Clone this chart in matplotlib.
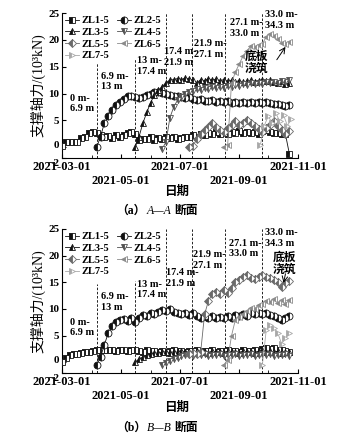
import numpy as np
import pandas as pd
import matplotlib
matplotlib.use('Agg')
import matplotlib.pyplot as plt
import matplotlib.dates as mdates
import matplotlib.transforms as mtransforms
from matplotlib.ticker import FixedLocator

plt.rcParams['font.family'] = ['Liberation Serif', 'Noto Sans CJK SC']
plt.rcParams['font.weight'] = 'bold'
LATIN = 'Liberation Serif'

STEP = 4  # 监测间隔 (天)

# 测点名称及起测日期
NAMES = ['ZL1-5', 'ZL2-5', 'ZL3-5', 'ZL4-5', 'ZL5-5', 'ZL6-5', 'ZL7-5']
A_START = ['2021-03-01', '2021-04-06', '2021-05-16', '2021-06-13',
           '2021-07-11', '2021-08-16', '2021-09-23']
B_START = ['2021-03-01', '2021-04-06', '2021-05-16', '2021-06-13',
           '2021-07-11', '2021-08-16', '2021-09-25']

# A-A 断面支撑轴力 (10^3 kN)
A_ZL1 = [0.2, 1.0, 1.0, 1.0, 1.0, 1.8, 2.0, 2.6, 2.8, 2.7, 2.2, 2.0, 2.1, 1.8, 2.2, 2.0, 2.3, 2.6, 2.8, 2.4,
         1.3, 1.6, 1.5, 1.9, 1.3, 1.8, 1.6, 1.9, 1.7, 1.9,
         1.5, 1.8, 2.0, 1.9, 2.3, 2.0, 2.5, 2.2, 2.6, 2.4,
         2.8, 2.5, 2.7, 2.4, 2.9, 2.6, 3.0, 2.7, 2.9, 2.6,
         2.8, 2.5, 3.0, 3.2, 2.9, 2.7, 2.6, 2.5, 2.4, -1.2]
A_ZL2 = [0.0, 2.0, 4.5, 5.8, 7.0, 7.8, 8.4, 8.9, 9.5, 9.6,
         9.4, 9.2, 9.4, 9.8, 10.0, 10.2, 10.3, 10.1, 10.0, 9.7,
         9.5, 9.6, 9.4, 9.2, 9.3, 9.0, 8.8, 8.9, 8.7, 8.6,
         8.8, 8.5, 8.6, 8.4, 8.6, 8.3, 8.5, 8.3, 8.5, 8.2,
         8.4, 8.3, 8.5, 8.3, 8.4, 8.2, 8.0, 8.1, 7.8, 7.7, 7.9]
A_ZL3 = [0.0, 2.0, 4.5, 6.5, 8.3, 9.8, 10.6, 11.3, 12.0, 12.5,
         12.6, 12.8, 12.6, 12.9, 12.7, 12.5, 12.0, 12.6, 12.4, 12.8,
         12.5, 12.7, 12.4, 12.6, 12.3, 12.5, 12.2, 12.4, 12.1, 12.3,
         12.5, 12.2, 12.4, 12.6, 12.3, 12.5, 12.2, 12.0, 12.3, 11.8, 12.0]
A_ZL4 = [-0.3, 1.0, 5.5, 7.5, 8.8, 9.4, 9.9, 10.3, 10.5, 10.8,
         10.6, 11.0, 10.8, 11.2, 11.0, 11.3, 11.1, 11.5, 11.3, 11.6,
         11.4, 11.8, 11.6, 11.9, 11.7, 12.0, 11.8, 12.1, 11.9, 12.2,
         12.0, 12.4, 12.1, 12.5]
A_ZL5 = [0.0, 0.3, 1.5, 2.5, 3.2, 3.8, 4.5, 3.8, 3.2, 2.8,
         3.5, 4.2, 4.8, 4.2, 4.6, 5.0, 4.5, 4.0, 3.4, 2.8,
         3.5, 4.2, 4.8, 4.0, 3.2, 2.5, 3.0]
A_ZL6 = [0.0, 0.5, 12.0, 14.0, 15.5, 17.0, 18.0, 18.8, 18.6, 19.0,
         19.3, 20.5, 21.0, 20.8, 20.2, 19.4, 19.2, 19.6]
A_ZL7 = [0.5, 4.0, 5.8, 4.6, 6.4, 4.8, 6.0, 4.0, 5.3]

# B-B 断面支撑轴力 (10^3 kN)
B_ZL1 = [0.1, 0.8, 1.4, 1.5, 1.6, 1.8, 1.9, 2.0, 2.2, 2.4,
         2.3, 2.4, 2.3, 2.4, 2.2, 2.4, 2.3, 2.2, 2.4, 2.3,
         2.2, 2.0, 2.3, 2.1, 2.2, 2.0, 2.2, 2.0, 2.1, 2.3,
         2.1, 2.2, 2.0, 2.2, 2.1, 2.3, 2.0, 2.2, 2.1, 2.3,
         2.0, 2.2, 2.1, 2.3, 2.1, 2.2, 2.0, 2.3, 2.1, 2.2,
         2.4, 2.2, 2.5, 2.7, 2.5, 2.6, 2.4, 2.3, 2.1, 2.0]
B_ZL2 = [-0.5, 1.0, 3.3, 5.5, 6.8, 7.6, 8.0, 8.2, 7.8, 8.3,
         7.6, 8.4, 8.8, 8.6, 9.2, 9.0, 9.5, 9.8, 9.6, 10.0,
         9.4, 9.2, 9.0, 9.3, 8.8, 9.2, 8.6, 8.3, 8.6, 8.4,
         8.6, 8.3, 8.5, 8.3, 8.6, 8.4, 8.8, 8.6, 9.0, 8.7,
         9.2, 9.0, 9.3, 9.1, 9.3, 8.8, 8.6, 8.4, 8.0, 8.3, 8.6]
B_ZL3 = [0.0, 0.6, 1.0, 1.3, 1.5, 1.7, 1.8, 1.9, 2.0, 1.8,
         2.0, 1.9, 2.1, 1.9, 2.0, 1.8, 2.1, 1.9, 2.0, 1.8,
         2.1, 1.9, 2.0, 1.8, 2.1, 1.9, 2.0, 1.8, 2.1, 1.9,
         2.0, 1.8, 2.1, 2.3, 2.0, 2.2, 1.9, 2.1, 1.8, 2.0, 1.9]
B_ZL4 = [-0.5, -0.2, 0.3, 0.6, 0.9, 1.1, 1.3, 1.4, 1.2, 1.5,
         1.3, 1.5, 1.2, 1.4, 1.3, 1.5, 1.2, 1.4, 1.3, 1.5,
         1.2, 1.4, 1.3, 1.5, 1.2, 1.4, 1.6, 1.3, 1.5, 1.2,
         1.4, 1.3, 1.5, 1.2]
B_ZL5 = [1.5, 1.8, 1.5, 2.0, 9.0, 11.5, 12.8, 13.2, 12.8, 13.5,
         13.0, 14.0, 15.0, 15.5, 16.0, 16.3, 15.9, 15.6, 16.0, 16.3,
         16.0, 15.8, 15.5, 15.0, 14.2, 14.8, 15.2]
B_ZL6 = [-0.5, 0.5, 5.0, 8.0, 8.5, 9.0, 9.6, 10.2, 10.0, 10.8,
         11.0, 11.5, 11.3, 11.8, 11.2, 11.6, 11.0, 11.6]
B_ZL7 = [-0.5, 6.0, 7.0, 6.5, 5.5, 3.5, 4.5, 5.5]

# 开挖工况分界日期、分界线上端及标注
STAGE_DATES = ['2021-04-06', '2021-05-16', '2021-06-17', '2021-07-14', '2021-08-17', '2021-09-25']
A_STAGE_TOP = [15.7, 16.7, 25, 25, 25, 25]
B_STAGE_TOP = [14.7, 15.3, 25, 25, 25, 25]
STAGE_TEXT = ['0 m-\n6.9 m', '6.9 m-\n13 m', '13 m-\n17.4 m', '17.4 m-\n21.9 m',
              '21.9 m-\n27.1 m', '27.1 m-\n33.0 m', '33.0 m-\n34.3 m']
A_TEXT_POS = [('2021-03-09', 10.0), ('2021-04-10', 14.1), ('2021-05-18', 17.0), ('2021-06-15', 18.7),
              ('2021-07-16', 20.2), ('2021-08-22', 24.1), ('2021-09-28', 25.6)]
B_TEXT_POS = [('2021-03-09', 8.4), ('2021-04-10', 13.1), ('2021-05-18', 15.5), ('2021-06-17', 17.7),
              ('2021-07-15', 21.1), ('2021-08-21', 23.2), ('2021-09-28', 25.2)]

XTICKS = ['2021-03-01', '2021-05-01', '2021-07-01', '2021-09-01', '2021-11-01']
XMINOR = ['2021-04-01', '2021-06-01', '2021-08-01', '2021-10-01']
YTICKS = [-2, 0, 5, 10, 15, 20, 25]

COLORS = ['#111111', '#111111', '#111111', '#505050', '#6a6a6a', '#8a8a8a', '#a8a8a8']
MARKERS = ['s', 'o', '^', 'v', 'D', '<', '>']


def dnum(s):
    return mdates.date2num(pd.Timestamp(s))


def draw_panel(ax, series, starts, stage_top, text_pos, note_pos, arrow):
    handles = []
    for k, vals in enumerate(series):
        x = [dnum(pd.Timestamp(starts[k]) + pd.Timedelta(days=STEP * i)) for i in range(len(vals))]
        ms = 4.4 if MARKERS[k] == 'D' else 5.0
        h, = ax.plot(x, vals, color=COLORS[k], lw=0.6, marker=MARKERS[k], ms=ms, mew=0.6,
                     fillstyle='left', markerfacecolor=COLORS[k], markerfacecoloralt='white',
                     markeredgecolor=COLORS[k], label=NAMES[k], zorder=3)
        handles.append(h)

    for d, top in zip(STAGE_DATES, stage_top):
        ax.vlines(dnum(d), -2, top, color='black', lw=0.6, ls=(0, (3, 2)), zorder=1)

    for txt, (d, yv) in zip(STAGE_TEXT, text_pos):
        ax.text(dnum(d), yv, txt, fontsize=7.4, family=LATIN, ha='left', va='top',
                linespacing=1.25, clip_on=False)

    ax.text(dnum(note_pos[0]), note_pos[1], '底板\n浇筑', fontsize=8.5, ha='center', va='top',
            linespacing=1.0)
    ax.annotate('', xy=(dnum(arrow[2]), arrow[3]), xytext=(dnum(arrow[0]), arrow[1]),
                arrowprops=dict(arrowstyle='->', lw=0.7, color='black', shrinkA=0, shrinkB=0))

    order = [0, 2, 4, 6, 1, 3, 5]
    ax.legend([handles[i] for i in order], [NAMES[i] for i in order], ncol=2,
              loc='upper left', bbox_to_anchor=(0.0, 1.0),
              prop={'family': LATIN, 'size': 7.5, 'weight': 'bold'},
              handlelength=1.3, handletextpad=0.25, columnspacing=0.8,
              labelspacing=0.22, borderpad=0.15, borderaxespad=0.15, numpoints=1,
              frameon=False)

    ax.set_xlim(dnum('2021-03-01'), dnum('2021-11-01'))
    ax.set_ylim(-2, 25)
    ax.xaxis.set_major_locator(FixedLocator([dnum(d) for d in XTICKS]))
    ax.xaxis.set_minor_locator(FixedLocator([dnum(d) for d in XMINOR]))
    ax.set_xticklabels([d if i % 2 == 0 else '\n' + d for i, d in enumerate(XTICKS)],
                       fontsize=9, family=LATIN)
    ax.yaxis.set_major_locator(FixedLocator(YTICKS))
    ax.set_yticklabels([str(v).replace('-', '−') for v in YTICKS], fontsize=8, family=LATIN)
    ax.tick_params(direction='in', length=3, width=0.8, pad=2)
    ax.tick_params(which='minor', direction='in', length=2, width=0.6)
    # 错开 -2 与 0 两个刻度标签
    fig = ax.figure
    ylabs = ax.get_yticklabels()
    ylabs[0].set_transform(ylabs[0].get_transform() +
                           mtransforms.ScaledTranslation(0, -3.5 / 72, fig.dpi_scale_trans))
    ylabs[1].set_transform(ylabs[1].get_transform() +
                           mtransforms.ScaledTranslation(0, 2 / 72, fig.dpi_scale_trans))
    ax.spines['top'].set_visible(False)
    ax.spines['right'].set_visible(False)
    ax.spines['left'].set_linewidth(0.8)
    ax.spines['bottom'].set_linewidth(0.8)
    ax.set_ylabel('支撑轴力/(10³kN)', fontsize=10, labelpad=1)


fig = plt.figure(figsize=(3.48, 4.42), dpi=100)
W, H = 348, 442
ax_a = fig.add_axes([62 / W, 1 - 158 / H, 236 / W, 145 / H])
ax_b = fig.add_axes([62 / W, 1 - 373 / H, 236 / W, 144 / H])

draw_panel(ax_a, [A_ZL1, A_ZL2, A_ZL3, A_ZL4, A_ZL5, A_ZL6, A_ZL7], A_START, A_STAGE_TOP,
           A_TEXT_POS, ('2021-09-19', 18.0), ('2021-10-10', 16.3, '2021-10-19', 18.7))
draw_panel(ax_b, [B_ZL1, B_ZL2, B_ZL3, B_ZL4, B_ZL5, B_ZL6, B_ZL7], B_START, B_STAGE_TOP,
           B_TEXT_POS, ('2021-10-18', 20.7), ('2021-10-19', 16.6, '2021-10-17', 14.9))


def caption(y, tag, letter):
    fig.text(146 / W, 1 - y / H, '（' + tag + '）', fontsize=8.5, ha='right', va='center')
    fig.text(147 / W, 1 - y / H, letter + '—' + letter, fontsize=8.5, family=LATIN,
             ha='left', va='center', style='italic', weight='normal')
    fig.text(174 / W, 1 - y / H, '断面', fontsize=8.5, ha='left', va='center')


fig.text(177 / W, 1 - 192 / H, '日期', fontsize=9, ha='center', va='center')
caption(211, 'a', 'A')
fig.text(177 / W, 1 - 408 / H, '日期', fontsize=9, ha='center', va='center')
caption(428, 'b', 'B')

fig.savefig('out.png', dpi=100)
